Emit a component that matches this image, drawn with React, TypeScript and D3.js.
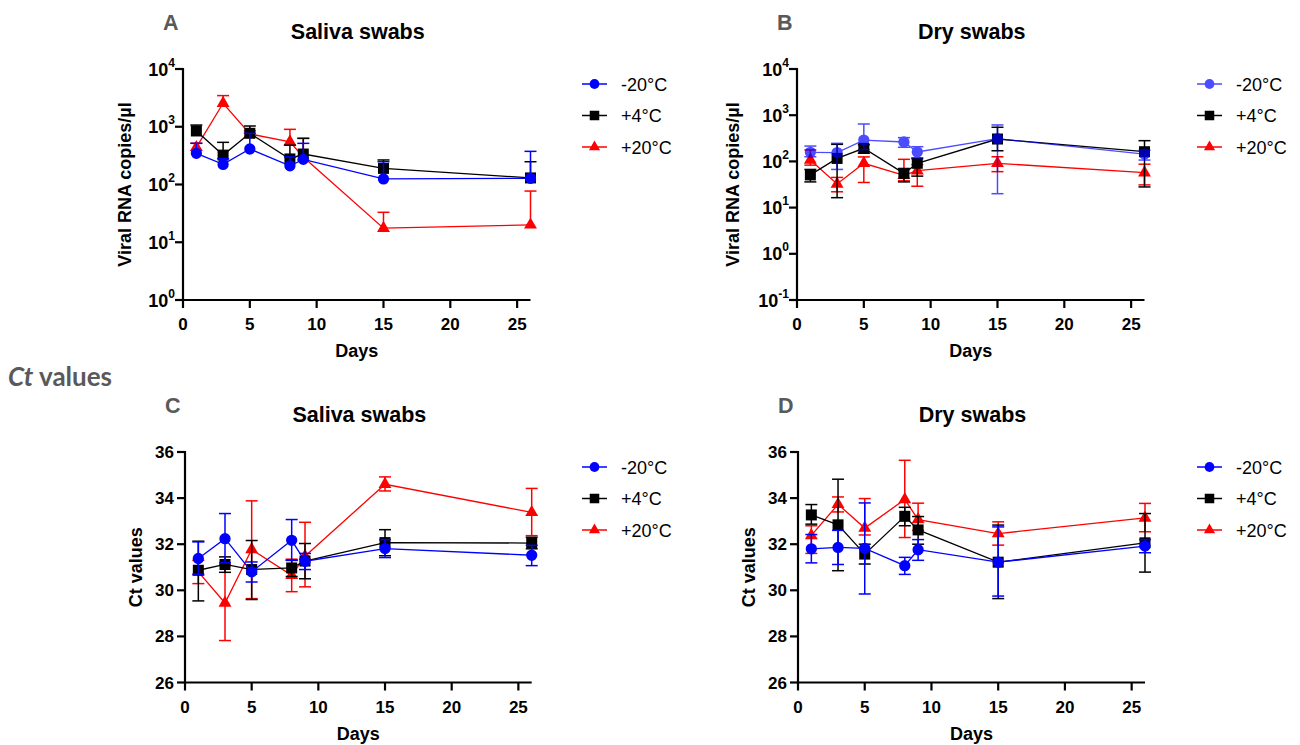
import * as d3 from "d3";

const DAYS = [1, 3, 5, 8, 9, 15, 26];
const SERIES_NAMES = ["-20°C", "+4°C", "+20°C"];
const X_TICKS = [0, 5, 10, 15, 20, 25];
const LOG_TICKS_A = [0, 1, 2, 3, 4];
const LOG_TICKS_B = [-1, 0, 1, 2, 3, 4];
const CT_TICKS = [26, 28, 30, 32, 34, 36];

// A - saliva swabs, viral RNA copies/µl (only the upper bar is drawn)
const SALIVA_COPIES_M20 = [347, 223, 412, 211, 273, 125, 128];
const SALIVA_COPIES_M20_HI = [516, 280, 770, 300, 516, 248, 375];
const SALIVA_COPIES_P4 = [845, 323, 770, 277, 337, 190, 130];
const SALIVA_COPIES_P4_HI = [1070, 537, 1030, 480, 630, 266, 248];
const SALIVA_COPIES_P20 = [440, 2550, 750, 550, 300, 17.5, 20];
const SALIVA_COPIES_P20_HI = [520, 3460, 850, 902, 630, 33, 77];

// B - dry swabs, viral RNA copies/µl
const DRY_COPIES_M20 = [157, 155, 290, 263, 160, 310, 144];
const DRY_COPIES_M20_HI = [215, 246, 645, 327, 208, 615, 175];
const DRY_COPIES_M20_LO = [126, 67, 180, 202, 120, 20, 107];
const DRY_COPIES_P4 = [51, 116, 192, 55, 91, 305, 162];
const DRY_COPIES_P4_HI = [67, 234, 230, 70, 115, 548, 281];
const DRY_COPIES_P4_LO = [36, 16.4, 150, 36, 48, 170, 28];
const DRY_COPIES_P20 = [107, 32.5, 91, 50, 63, 91, 57];
const DRY_COPIES_P20_HI = [177, 45, 125, 111, 85, 126, 87];
const DRY_COPIES_P20_LO = [83, 22, 35, 38, 29, 60, 31];

// C - saliva swabs, Ct values
const SALIVA_CT_M20 = [31.38, 32.24, 30.8, 32.17, 31.26, 31.81, 31.52];
const SALIVA_CT_M20_HI = [32.1, 33.33, 31.23, 33.07, 31.6, 32.2, 31.95];
const SALIVA_CT_M20_LO = [30.7, 31.19, 30.36, 31.3, 30.9, 31.42, 31.07];
const SALIVA_CT_P4 = [30.87, 31.12, 30.9, 30.97, 31.27, 32.07, 32.05];
const SALIVA_CT_P4_HI = [32.13, 31.45, 32.16, 31.3, 32.03, 32.63, 32.3];
const SALIVA_CT_P4_LO = [29.54, 30.78, 29.6, 30.6, 30.5, 31.5, 31.8];
const SALIVA_CT_P20 = [30.8, 29.45, 31.77, 30.65, 31.48, 34.6, 33.38];
const SALIVA_CT_P20_HI = [31.3, 31.1, 33.88, 31.35, 32.95, 34.92, 34.42];
const SALIVA_CT_P20_LO = [30.29, 27.82, 29.64, 29.94, 30.15, 34.31, 32.37];

// D - dry swabs, Ct values
const DRY_CT_M20 = [31.8, 31.86, 31.82, 31.07, 31.76, 31.22, 31.92];
const DRY_CT_M20_HI = [32.42, 32.6, 33.79, 31.43, 32.2, 32.75, 32.2];
const DRY_CT_M20_LO = [31.19, 31.12, 29.84, 30.69, 31.3, 29.75, 31.63];
const DRY_CT_P4 = [33.27, 32.84, 31.57, 33.21, 32.62, 31.22, 32.06];
const DRY_CT_P4_HI = [33.72, 34.82, 32.0, 33.6, 33.2, 32.83, 33.33];
const DRY_CT_P4_LO = [32.87, 30.85, 31.14, 32.8, 32.0, 29.64, 30.79];
const DRY_CT_P20 = [32.38, 33.73, 32.7, 33.94, 33.07, 32.46, 33.14];
const DRY_CT_P20_HI = [32.8, 34.05, 33.98, 35.64, 33.78, 32.97, 33.77];
const DRY_CT_P20_LO = [31.6, 33.4, 32.4, 32.29, 32.6, 31.96, 32.54];

const FONT = "'Liberation Sans', Arial, sans-serif";
const COLORS = ["#0000ff", "#000000", "#ff0000"];
const SHAPES = [d3.symbolCircle, d3.symbolSquare, d3.symbolTriangle];
const SIZES = [100, 121, 72];

type Series = {
  mean: number[];
  hi: number[];
  lo: number[] | null;
  opacity: number;
};

type PanelProps = {
  x0: number;
  x1: number;
  yTop: number;
  yBot: number;
  letter: string;
  title: string;
  yLabel: string;
  yLabelX: number;
  log: boolean;
  domain: [number, number];
  ticks: number[];
  series: Series[];
  legendX: number;
};

function Panel(p: PanelProps) {
  const x = d3.scaleLinear().domain([0, 26]).range([p.x0, p.x1]);
  const y = p.log
    ? d3.scaleLog().domain(p.domain).range([p.yBot, p.yTop])
    : d3.scaleLinear().domain(p.domain).range([p.yBot, p.yTop]);
  const tickVal = (t: number) => (p.log ? Math.pow(10, t) : t);
  const line = d3
    .line<number>()
    .x((_, i) => x(DAYS[i]))
    .y((d) => y(d));
  const cx = (p.x0 + p.x1) / 2;

  const order = [2, 1, 0];

  return (
    <g fontFamily={FONT}>
      <text x={p.x0 - 20} y={p.yTop - 39} fontSize={21.5} fontWeight="bold" fill="#595959">
        {p.letter}
      </text>
      <text x={cx + 1} y={p.yTop - 30} fontSize={21.5} fontWeight="bold" textAnchor="middle">
        {p.title}
      </text>

      {order.map((si) => {
        const s = p.series[si];
        const col = COLORS[si];
        const sym = d3.symbol(SHAPES[si], SIZES[si])();
        return (
          <g key={si} opacity={s.opacity}>
            {s.mean.map((m, i) => {
              const xi = x(DAYS[i]);
              const top = y(s.hi[i]);
              const bot = s.lo ? y(s.lo[i]) : y(m);
              return (
                <g key={i} stroke={col} strokeWidth={1.5}>
                  <line x1={xi} x2={xi} y1={top} y2={bot} />
                  <line x1={xi - 6} x2={xi + 6} y1={top} y2={top} />
                  {s.lo && <line x1={xi - 6} x2={xi + 6} y1={bot} y2={bot} />}
                </g>
              );
            })}
            <path d={line(s.mean) || ""} fill="none" stroke={col} strokeWidth={1.3} />
            {s.mean.map((m, i) => (
              <path
                key={i}
                d={sym || ""}
                transform={`translate(${x(DAYS[i])},${y(m)})`}
                fill={col}
              />
            ))}
          </g>
        );
      })}

      {/* axes */}
      <line x1={p.x0} x2={p.x0} y1={p.yTop - 1} y2={p.yBot + 1} stroke="#000" strokeWidth={2.2} />
      <line x1={p.x0 - 1} x2={p.x1} y1={p.yBot} y2={p.yBot} stroke="#000" strokeWidth={2.2} />
      {p.ticks.map((t) => {
        const yy = y(tickVal(t));
        return (
          <g key={t}>
            <line x1={p.x0 - 8} x2={p.x0} y1={yy} y2={yy} stroke="#000" strokeWidth={2.2} />
            {p.log ? (
              <text x={p.x0 - 8} y={yy + 6.5} fontSize={18} fontWeight="bold" textAnchor="end">
                10
                <tspan dy={-9} fontSize={12}>
                  {t}
                </tspan>
              </text>
            ) : (
              <text x={p.x0 - 11} y={yy + 6} fontSize={17} fontWeight="bold" textAnchor="end">
                {t}
              </text>
            )}
          </g>
        );
      })}
      {X_TICKS.map((t) => (
        <g key={t}>
          <line x1={x(t)} x2={x(t)} y1={p.yBot} y2={p.yBot + 8} stroke="#000" strokeWidth={2.2} />
          <text x={x(t)} y={p.yBot + 30} fontSize={17} fontWeight="bold" textAnchor="middle">
            {t}
          </text>
        </g>
      ))}
      <text x={cx} y={p.yBot + 57} fontSize={18} fontWeight="bold" textAnchor="middle">
        Days
      </text>
      <text
        transform={`translate(${p.yLabelX},${(p.yTop + p.yBot) / 2}) rotate(-90)`}
        fontSize={18}
        fontWeight="bold"
        textAnchor="middle"
        dominantBaseline="central"
      >
        {p.yLabel}
      </text>

      {/* legend */}
      {SERIES_NAMES.map((name, si) => {
        const ly = p.yTop + 15 + si * 31.5;
        const sym = d3.symbol(SHAPES[si], SIZES[si] * 0.75)();
        const op = p.series[si].opacity;
        return (
          <g key={name}>
            <g opacity={op}>
              <line
                x1={p.legendX}
                x2={p.legendX + 25}
                y1={ly}
                y2={ly}
                stroke={COLORS[si]}
                strokeWidth={1.5}
              />
              <path d={sym || ""} transform={`translate(${p.legendX + 12.5},${ly})`} fill={COLORS[si]} />
            </g>
            <text x={p.legendX + 39} y={ly + 6.5} fontSize={18}>
              {name}
            </text>
          </g>
        );
      })}
    </g>
  );
}

export default function App() {
  const salivaCopies: Series[] = [
    { mean: SALIVA_COPIES_M20, hi: SALIVA_COPIES_M20_HI, lo: null, opacity: 1 },
    { mean: SALIVA_COPIES_P4, hi: SALIVA_COPIES_P4_HI, lo: null, opacity: 1 },
    { mean: SALIVA_COPIES_P20, hi: SALIVA_COPIES_P20_HI, lo: null, opacity: 1 },
  ];
  const dryCopies: Series[] = [
    { mean: DRY_COPIES_M20, hi: DRY_COPIES_M20_HI, lo: DRY_COPIES_M20_LO, opacity: 0.7 },
    { mean: DRY_COPIES_P4, hi: DRY_COPIES_P4_HI, lo: DRY_COPIES_P4_LO, opacity: 1 },
    { mean: DRY_COPIES_P20, hi: DRY_COPIES_P20_HI, lo: DRY_COPIES_P20_LO, opacity: 1 },
  ];
  const salivaCt: Series[] = [
    { mean: SALIVA_CT_M20, hi: SALIVA_CT_M20_HI, lo: SALIVA_CT_M20_LO, opacity: 1 },
    { mean: SALIVA_CT_P4, hi: SALIVA_CT_P4_HI, lo: SALIVA_CT_P4_LO, opacity: 1 },
    { mean: SALIVA_CT_P20, hi: SALIVA_CT_P20_HI, lo: SALIVA_CT_P20_LO, opacity: 1 },
  ];
  const dryCt: Series[] = [
    { mean: DRY_CT_M20, hi: DRY_CT_M20_HI, lo: DRY_CT_M20_LO, opacity: 1 },
    { mean: DRY_CT_P4, hi: DRY_CT_P4_HI, lo: DRY_CT_P4_LO, opacity: 1 },
    { mean: DRY_CT_P20, hi: DRY_CT_P20_HI, lo: DRY_CT_P20_LO, opacity: 1 },
  ];

  return (
    <svg
      width={1300}
      height={745}
      style={{ position: "absolute", left: 0, top: 0, background: "#fff" }}
    >
      <Panel
        x0={183} x1={530.5} yTop={69} yBot={300}
        letter="A" title="Saliva swabs" yLabel="Viral RNA copies/µl" yLabelX={125}
        log domain={[1, 10000]} ticks={LOG_TICKS_A} series={salivaCopies} legendX={582}
      />
      <Panel
        x0={797} x1={1144.5} yTop={69} yBot={300}
        letter="B" title="Dry swabs" yLabel="Viral RNA copies/µl" yLabelX={733}
        log domain={[0.1, 10000]} ticks={LOG_TICKS_B} series={dryCopies} legendX={1197}
      />
      <Panel
        x0={185} x1={531.7} yTop={452} yBot={682.5}
        letter="C" title="Saliva swabs" yLabel="Ct values" yLabelX={136}
        log={false} domain={[26, 36]} ticks={CT_TICKS} series={salivaCt} legendX={582}
      />
      <Panel
        x0={798} x1={1145} yTop={452} yBot={682.5}
        letter="D" title="Dry swabs" yLabel="Ct values" yLabelX={749}
        log={false} domain={[26, 36]} ticks={CT_TICKS} series={dryCt} legendX={1197}
      />
      <text x={8} y={386} fontFamily="Lato, 'Open Sans', sans-serif" fontSize={26} fontWeight="bold" fill="#595959">
        <tspan fontStyle="italic">Ct</tspan> values
      </text>
    </svg>
  );
}
